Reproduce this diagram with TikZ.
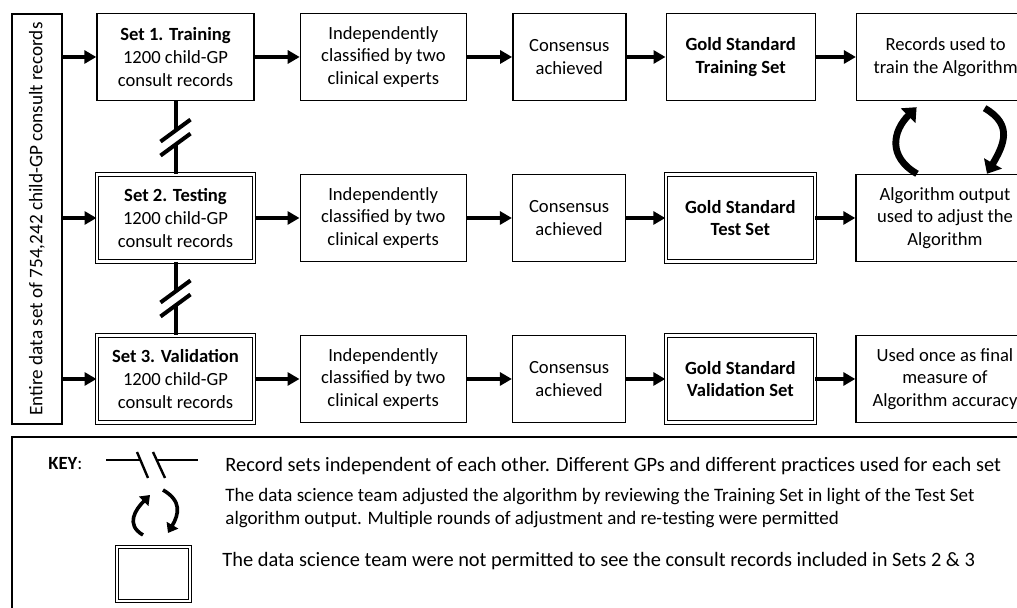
\documentclass[tikz,border=0pt]{standalone}
\usepackage{fontspec}
\setmainfont{Carlito}
\usepackage{graphicx}
\usetikzlibrary{arrows.meta,positioning,calc}

\begin{document}
\begin{tikzpicture}[x=0.5pt, y=0.5pt, font=\fontsize{9.3}{11.3}\selectfont,
    main/.style = {draw, line width=0.7pt, align=center, minimum height=43.5pt, inner sep=2pt},
    dbl/.style = {main, double, line width=0.5pt, double distance=1.2pt},
    flow/.style = {-{Triangle[length=6pt,width=6.5pt]}, line width=2pt},
    brk/.style = {line width=2pt},
    cyc/.style = {-{Triangle[length=6pt,width=10pt]}, line width=3.4pt, looseness=1.3},
    keycyc/.style = {-{Triangle[length=4.5pt,width=6.5pt]}, line width=1.8pt, looseness=1.3},
    keytext/.style = {anchor=west, inner sep=0pt, font=\fontsize{10.2}{11.6}\selectfont}]
            \useasboundingbox (0,0) rectangle (1017,608);
            \clip (0,0) rectangle (1017,608);

            \node[draw, line width=0.7pt, minimum width=25pt, minimum height=205pt, inner sep=0pt, font=\fontsize{9.6}{11}\selectfont] (E) at (37,389) {\rotatebox{90}{Entire data set of 754,242 child-GP consult records}};

            % row 1
            \node[main, minimum width=78.5pt] (S1) at (175.5,551) {\textbf{Set 1. Training}\\1200 child-GP\\consult records};
            \node[main, minimum width=83pt, right=22.5pt of S1] (I1) {Independently\\classified by two\\clinical experts};
            \node[main, minimum width=56.5pt, right=22.5pt of I1] (C1) {Consensus\\achieved};
            \node[main, minimum width=74.5pt, right=19.5pt of C1] (G1) {\textbf{Gold Standard}\\\textbf{Training Set}};
            \node[main, minimum width=89pt, right=20pt of G1] (R1) {Records used to\\train the Algorithm};

            % row 2
            \node[dbl, minimum width=78.5pt] (S2) at (175.5,390) {\textbf{Set 2. Testing}\\1200 child-GP\\consult records};
            \node[main, minimum width=83pt, right=22.5pt of S2] (I2) {Independently\\classified by two\\clinical experts};
            \node[main, minimum width=56.5pt, right=22.5pt of I2] (C2) {Consensus\\achieved};
            \node[dbl, minimum width=74.5pt, right=19.5pt of C2] (G2) {\textbf{Gold Standard}\\\textbf{Test Set}};
            \node[main, minimum width=89pt, right=20pt of G2] (R2) {Algorithm output\\used to adjust the\\Algorithm};

            % row 3
            \node[dbl, minimum width=78.5pt] (S3) at (175.5,229) {\textbf{Set 3. Validation}\\1200 child-GP\\consult records};
            \node[main, minimum width=83pt, right=22.5pt of S3] (I3) {Independently\\classified by two\\clinical experts};
            \node[main, minimum width=56.5pt, right=22.5pt of I3] (C3) {Consensus\\achieved};
            \node[dbl, minimum width=74.5pt, right=19.5pt of C3] (G3) {\textbf{Gold Standard}\\\textbf{Validation Set}};
            \node[main, minimum width=89pt, right=20pt of G3] (R3) {Used once as final\\measure of\\Algorithm accuracy};

            \path[flow] (E.east |- S1) edge (S1);
            \path[flow] (E.east |- S2) edge (S2);
            \path[flow] (E.east |- S3) edge (S3);

            \path[flow] (S1) edge (I1);
            \path[flow] (I1) edge (C1);
            \path[flow] (C1) edge (G1);
            \path[flow] (G1) edge (R1);
            \path[flow] (S2) edge (I2);
            \path[flow] (I2) edge (C2);
            \path[flow] (C2) edge (G2);
            \path[flow] (G2) edge (R2);
            \path[flow] (S3) edge (I3);
            \path[flow] (I3) edge (C3);
            \path[flow] (C3) edge (G3);
            \path[flow] (G3) edge (R3);

            % independent sets
            \coordinate (M1) at ($(S1.south)!0.5!(S2.north)$);
            \coordinate (M2) at ($(S2.south)!0.5!(S3.north)$);
            \draw[brk] (S1.south) -- ($(M1)+(0,7)$);
            \draw[brk] ($(M1)+(0,-7)$) -- (S2.north);
            \draw[brk] ($(M1)+(-15,-4)$) -- ($(M1)+(15,18)$);
            \draw[brk] ($(M1)+(-15,-18)$) -- ($(M1)+(15,4)$);
            \draw[brk] (S2.south) -- ($(M2)+(0,7)$);
            \draw[brk] ($(M2)+(0,-7)$) -- (S3.north);
            \draw[brk] ($(M2)+(-15,-4)$) -- ($(M2)+(15,18)$);
            \draw[brk] ($(M2)+(-15,-18)$) -- ($(M2)+(15,4)$);

            % adjustment loop
            \draw[cyc] ($(R2.north)+(-28,0)$) to[out=150, in=-135] ($(R1.south)+(-29,-6)$);
            \draw[cyc] ($(R1.south)+(39,-7)$) to[out=-30, in=60] ($(R2.north)+(42,0)$);

            % key
            \draw[line width=1pt] (12,171) rectangle (1040,-20);
            \node[anchor=west, inner sep=0pt] (key) at (48,144) {\textbf{KEY}:};
            \draw[line width=1.2pt] (106,148) -- (140.5,148);
            \draw[line width=1.2pt] (156.5,148) -- (198,148);
            \draw[line width=1.2pt] (137,156) -- (148,130);
            \draw[line width=1.2pt] (153,156) -- (165,130);
            \draw[keycyc] (143,73) to[out=150, in=-135] (150,113);
            \draw[keycyc] (163,118) to[out=-30, in=60] (168,75);
            \node[dbl, minimum width=36.5pt, minimum height=27pt] (keybox) at (153.5,34) {};
            \node[keytext] (k1) at (225,142) {Record sets independent of each other. Different GPs and different practices used for each set};
            \node[keytext, align=left, font=\fontsize{9.5}{11.5}\selectfont] (k2) at (225,100) {The data science team adjusted the algorithm by reviewing the Training Set in light of the Test Set\\algorithm output. Multiple rounds of adjustment and re-testing were permitted};
            \node[keytext] (k3) at (222,47) {The data science team were not permitted to see the consult records included in Sets 2 \& 3};

        \end{tikzpicture}
\end{document}
